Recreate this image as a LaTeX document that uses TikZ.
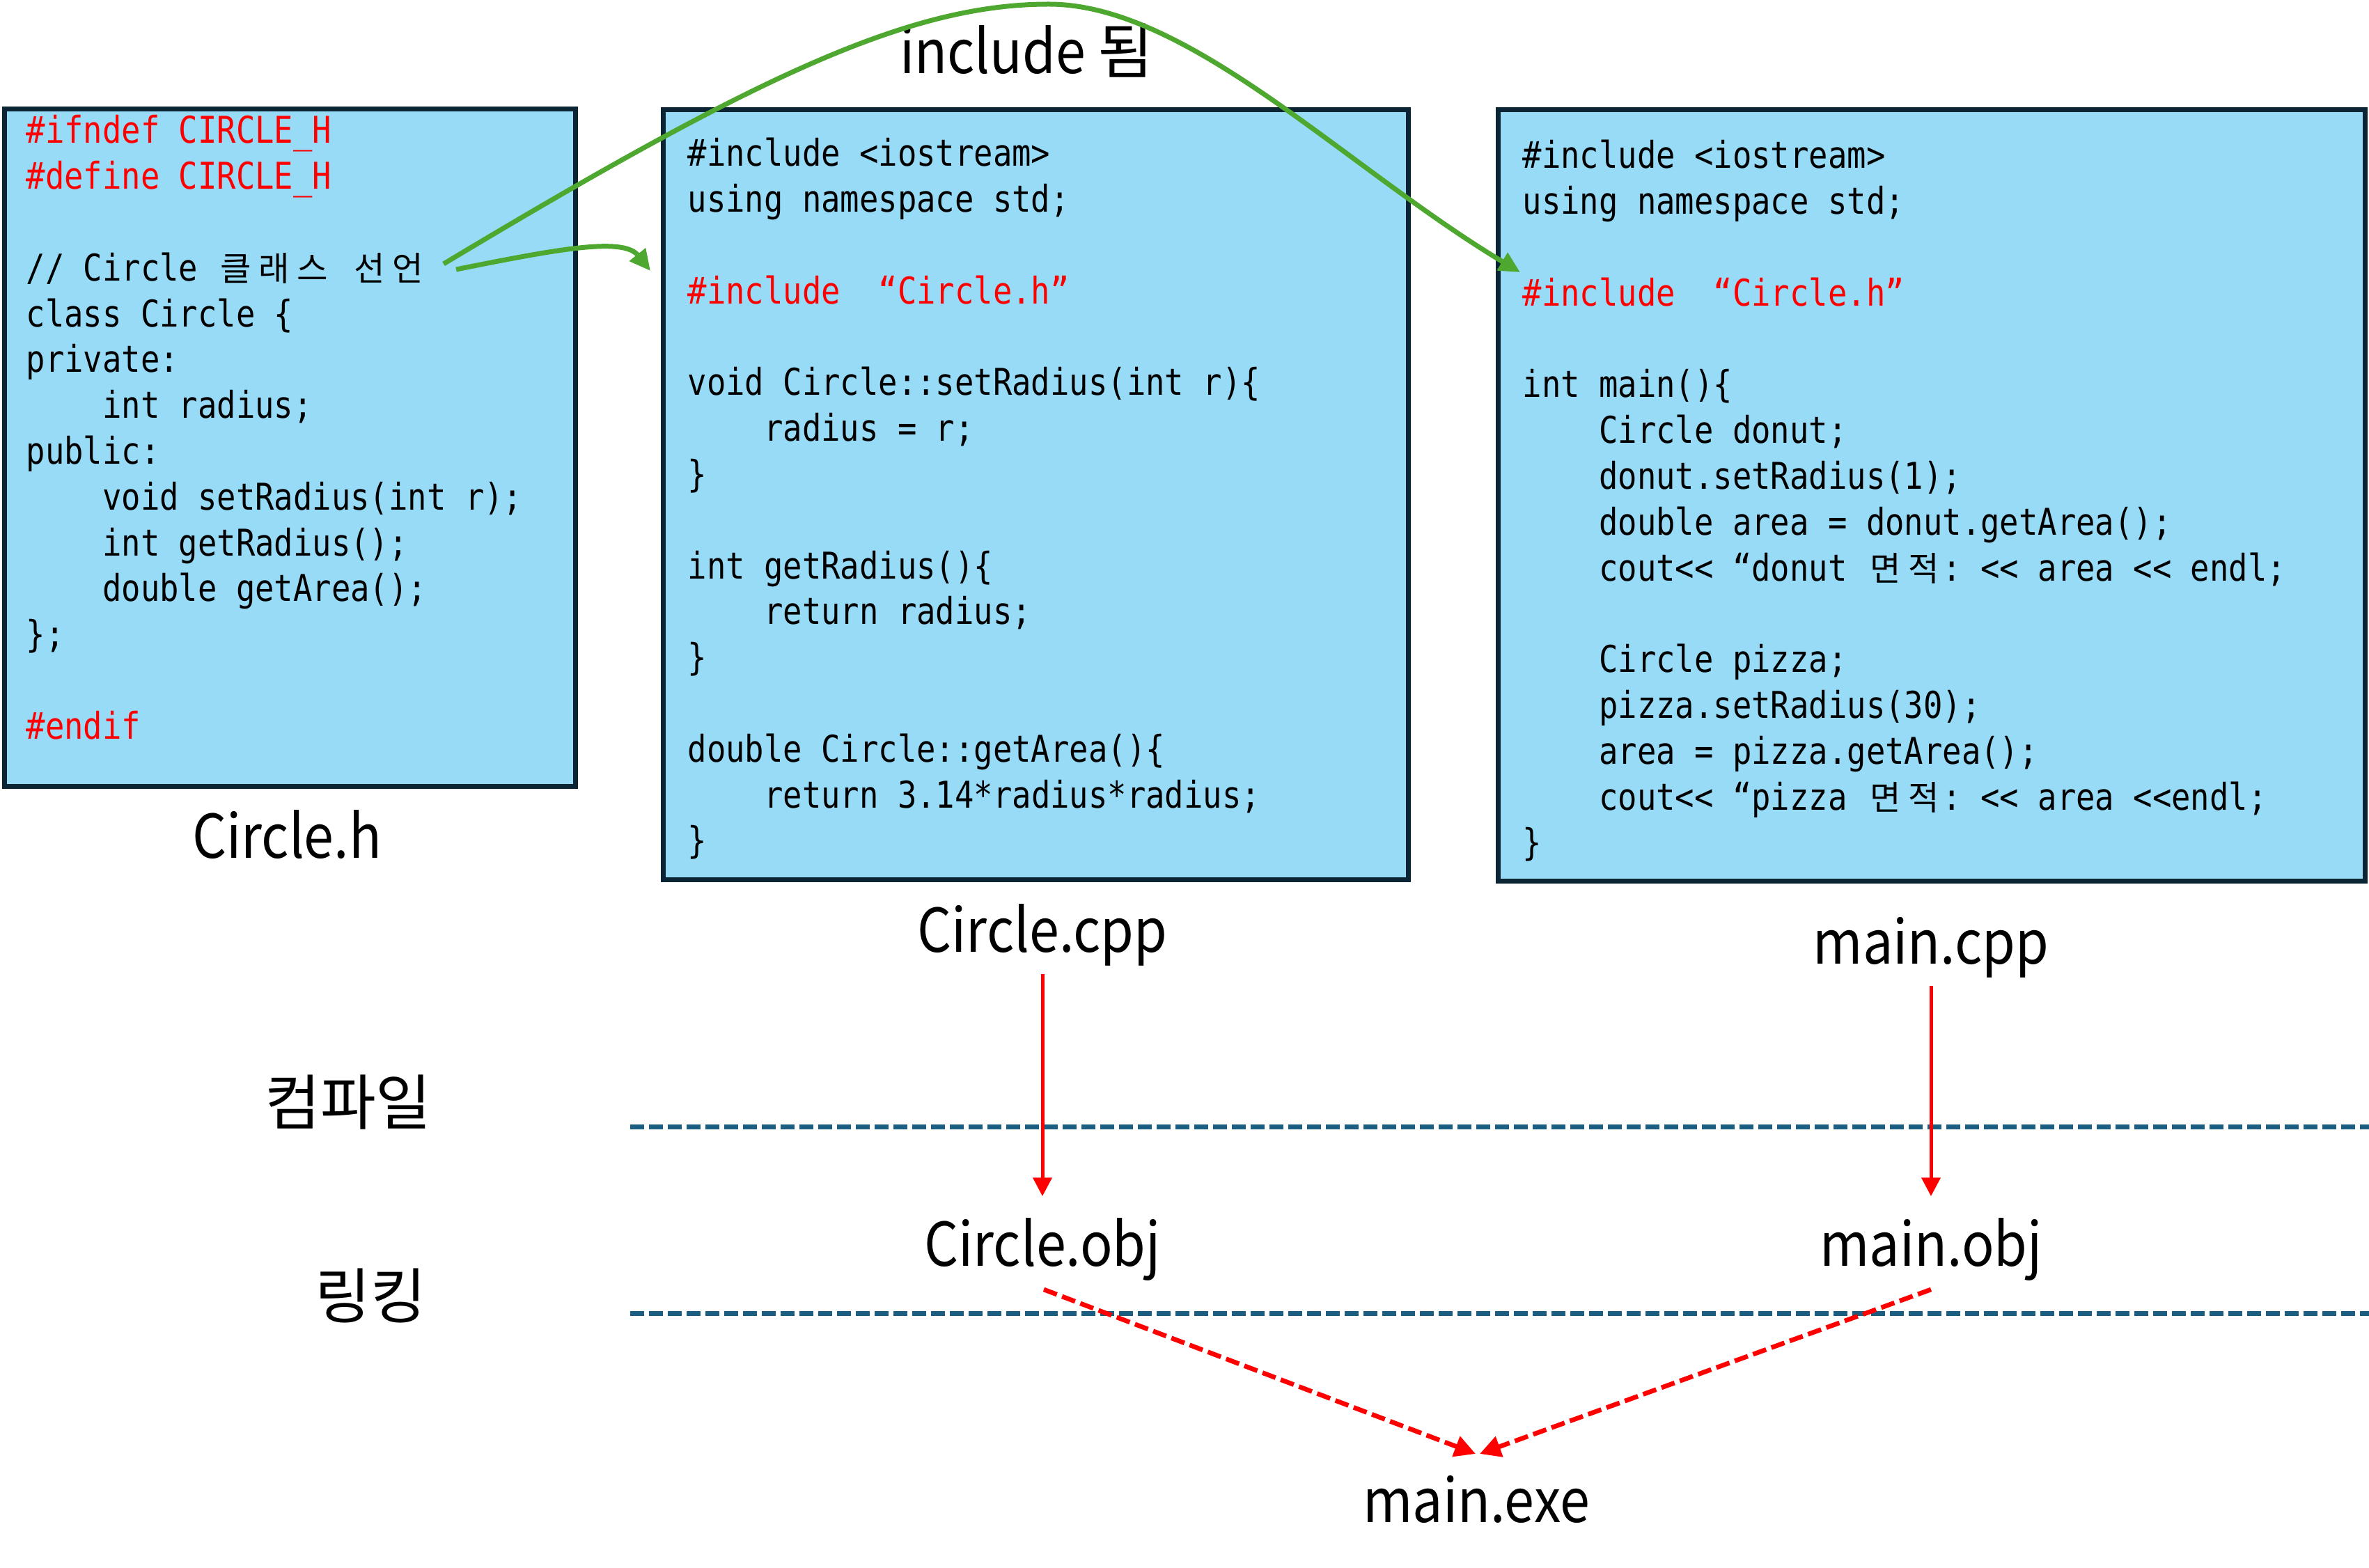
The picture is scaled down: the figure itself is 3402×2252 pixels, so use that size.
\documentclass[tikz,border=0pt]{standalone}
\usepackage{fontspec}
\setmonofont[FakeStretch=0.859,WordSpace={1,0,0}]{DejaVu Sans Mono}
\newfontfamily\krfont{Noto Sans CJK KR}
\newfontfamily\labfont[FakeStretch=0.89]{Noto Sans CJK KR}
\newfontfamily\krlab{Noto Sans CJK KR}
\usetikzlibrary{arrows.meta}
\definecolor{boxfill}{HTML}{97DBF7}
\definecolor{boxline}{HTML}{0B2535}
\definecolor{grn}{HTML}{4EA72E}
\definecolor{sepcol}{HTML}{1B5E82}
\definecolor{codered}{HTML}{FF0000}
\newlength\cellw
\newcommand\codeset{\ttfamily\fontsize{15.9}{19.74}\selectfont\settowidth\cellw{0}}
\newcommand\hg[1]{\makebox[2\cellw]{\krfont\fontsize{14.5}{19.74}\selectfont #1}}
\newcommand\ind{\hspace*{4\cellw}}
\newcommand\LL{<\kern0pt<}
\tikzset{
  codebox/.style={draw=boxline, fill=boxfill, line width=2.1pt, rectangle, inner sep=0pt},
  code/.style={inner sep=0pt, font=\codeset, anchor=base west},
  lab/.style={inner sep=0pt, font=\labfont\fontsize{26}{30}\selectfont, anchor=base},
  krl/.style={inner sep=0pt, font=\krlab\fontsize{26}{30}\selectfont, anchor=base},
  garrow/.style={draw=grn, line width=2.1pt, -{Triangle[length=9pt,width=8.5pt]}},
  rarrow/.style={draw=codered, line width=1.5pt, -{Triangle[length=8pt,width=8pt]}},
  rdash/.style={draw=codered, line width=2pt, dash pattern=on 6pt off 2.4pt, -{Triangle[length=9pt,width=9pt]}},
  sepline/.style={draw=sepcol, line width=2.1pt, dash pattern=on 6pt off 2.1pt},
}
\begin{document}
\begin{tikzpicture}[x=0.3pt, y=-0.3pt]
\useasboundingbox (0,0) rectangle (3402,2252);

% boxes
\node[codebox, minimum width=246pt, minimum height=291.9pt] (b1) at (416,643.5) {};
\node[codebox, minimum width=321pt, minimum height=331.8pt] (b2) at (1487,711) {};
\node[codebox, minimum width=373.5pt, minimum height=332.4pt] (b3) at (2773.5,712) {};

% code texts
\node[code] (c1) at (37,206) {\begin{tabular}[t]{@{}l@{}}
{\color{codered}\#ifndef CIRCLE\_H}\\
{\color{codered}\#define CIRCLE\_H}\\
\\
// Circle \hg{클}\hg{래}\hg{스} \hg{선}\hg{언}\\
class Circle \{\\
private:\\
\ind int radius;\\
public:\\
\ind void setRadius(int r);\\
\ind int getRadius();\\
\ind double getArea();\\
\};\\
\\
{\color{codered}\#endif}
\end{tabular}};

\node[code] (c2) at (987,239) {\begin{tabular}[t]{@{}l@{}}
\#include <iostream>\\
using namespace std;\\
\\
{\color{codered}\#include\ \ “Circle.h”}\\
\\
void Circle::setRadius(int r)\{\\
\ind radius = r;\\
\}\\
\\
int getRadius()\{\\
\ind return radius;\\
\}\\
\\
double Circle::getArea()\{\\
\ind return 3.14*radius*radius;\\
\}
\end{tabular}};

\node[code] (c3) at (2186,242) {\begin{tabular}[t]{@{}l@{}}
\#include <iostream>\\
using namespace std;\\
\\
{\color{codered}\#include\ \ “Circle.h”}\\
\\
int main()\{\\
\ind Circle donut;\\
\ind donut.setRadius(1);\\
\ind double area = donut.getArea();\\
\ind cout\LL{} “donut \hg{면}\hg{적}: \LL{} area \LL{} endl;\\
\\
\ind Circle pizza;\\
\ind pizza.setRadius(30);\\
\ind area = pizza.getArea();\\
\ind cout\LL{} “pizza \hg{면}\hg{적}: \LL{} area \LL{}endl;\\
\}
\end{tabular}};

% labels
\node[lab] (lh) at (412,1232) {Circle.h};
\node[lab] (lcpp) at (1497,1367) {Circle.cpp};
\node[lab] (lmcpp) at (2773,1384) {main.cpp};
\node[lab] (lcobj) at (1497,1818) {Circle.obj};
\node[lab] (lmobj) at (2773,1818) {main.obj};
\node[lab] (lexe) at (2120,2186) {main.exe};
\node[lab] (linc) at (1474,106) {include {\krlab 됨}};
\node[krl] (lcomp) at (500,1615) {컴파일};
\node[krl] (llink) at (532,1893) {링킹};

% separators
\draw[sepline] (905,1618) -- (3402,1618);
\draw[sepline] (905,1886) -- (3402,1886);

% green include arrows
\coordinate (g1s) at (655,387);
\coordinate (g1e) at (934,389);
\draw[garrow] (g1s) .. controls (800,358) and (895,340) .. (g1e);
\coordinate (g2s) at (637,379);
\coordinate (g2top) at (1506,6);
\coordinate (g2e) at (2183,391);
\draw[garrow] (g2s) .. controls (1087,109) and (1306,6) .. (g2top) .. controls (1706,6) and (1933,241) .. (g2e);

% compile arrows
\coordinate (r1s) at (1497,1399);
\coordinate (r1e) at (1497,1718);
\coordinate (r2s) at (2773,1416);
\coordinate (r2e) at (2773,1718);
\draw[rarrow] (r1s) -- (r1e);
\draw[rarrow] (r2s) -- (r2e);

% link arrows
\coordinate (d1s) at (1499,1852);
\coordinate (d2s) at (2773,1852);
\coordinate (d1e) at (2119,2088);
\coordinate (d2e) at (2125,2088);
\draw[rdash] (d1s) -- (d1e);
\draw[rdash] (d2s) -- (d2e);
\end{tikzpicture}
\end{document}
